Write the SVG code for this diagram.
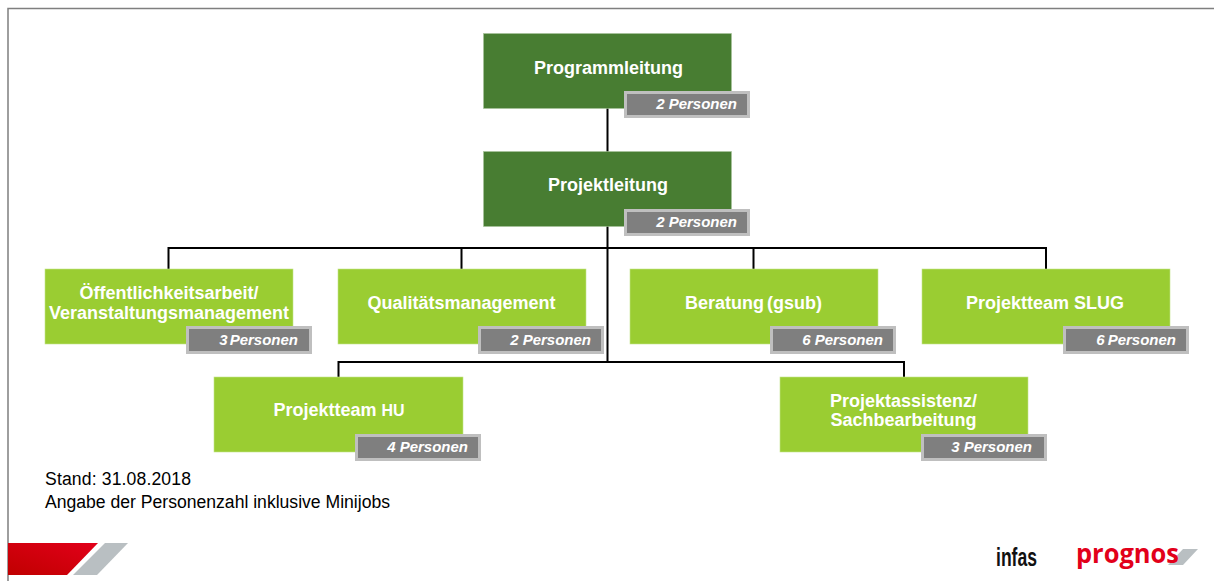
<svg xmlns="http://www.w3.org/2000/svg" width="1214" height="581" viewBox="0 0 1214 581">
<style>
text{font-family:"Liberation Sans",Arial,sans-serif}
.dark{fill:#487d32;stroke:#a9c49c;stroke-width:.6}
.light{fill:#9acd32;stroke:#c4e38a;stroke-width:.6}
.badge{fill:#7f7f7f;stroke:#bfbfbf;stroke-width:3}
.t{fill:#fff;font-size:18px;font-weight:700;text-anchor:middle}
.b{fill:#fff;font-size:15px;font-weight:700;font-style:italic;text-anchor:end}
.n{fill:#000;font-size:17.600px}
.c{fill:none;stroke:#000;stroke-width:2}
</style>
<defs><linearGradient id="red" x1="0" y1="1" x2="1" y2="0"><stop offset="0" stop-color="#c00000"/><stop offset="1" stop-color="#e2001a"/></linearGradient></defs>
<path d="M8 581V8.500H1214" fill="none" stroke="#7f7f7f" stroke-width="1.500"/>
<g id="connectors">
<path class="c" d="M607.500 108V248M168.500 269V248H1046V269M461.500 248V269M753.500 248V269M607.500 226V362M338.500 377V362H904V377"/>
</g>
<g id="programmleitung"><rect class="dark" x="483.500" y="33.500" width="248" height="75"/><text class="t" x="608.500" y="73.500">Programmleitung</text><rect class="badge" x="625.500" y="92.500" width="123" height="24"/><text class="b" x="737" y="109">2 Personen</text></g>
<g id="projektleitung"><rect class="dark" x="483.500" y="151.500" width="248" height="75"/><text class="t" x="608" y="190.500">Projektleitung</text><rect class="badge" x="625.500" y="210.500" width="123" height="24"/><text class="b" x="737" y="227">2 Personen</text></g>
<g id="oeffentlichkeit"><rect class="light" x="45" y="269" width="248" height="75"/><text class="t" x="169" y="298.500">Öffentlichkeitsarbeit/</text><text class="t" x="169" y="318.500">Veranstaltungsmanagement</text><rect class="badge" x="187.500" y="327.500" width="123" height="25"/><text class="b" x="298" y="345" word-spacing="-2">3 Personen</text></g>
<g id="qualitaet"><rect class="light" x="338" y="269" width="248" height="75"/><text class="t" x="461.500" y="308.500">Qualitätsmanagement</text><rect class="badge" x="479.500" y="327.500" width="123" height="25"/><text class="b" x="591" y="345">2 Personen</text></g>
<g id="beratung"><rect class="light" x="630" y="269" width="248" height="75"/><text class="t" x="753.500" y="308.500" word-spacing="-2">Beratung (gsub)</text><rect class="badge" x="771.500" y="327.500" width="123" height="25"/><text class="b" x="883" y="345">6 Personen</text></g>
<g id="slug"><rect class="light" x="922" y="269" width="248" height="75"/><text class="t" x="1045" y="308.500">Projektteam SLUG</text><rect class="badge" x="1064.500" y="327.500" width="123" height="25"/><text class="b" x="1176" y="345" word-spacing="-1">6 Personen</text></g>
<g id="hu"><rect class="light" x="214" y="377" width="249" height="75"/><text class="t" x="339" y="415.500">Projektteam <tspan font-size="16">HU</tspan></text><rect class="badge" x="356.500" y="435.500" width="123" height="24"/><text class="b" x="468" y="452">4 Personen</text></g>
<g id="assistenz"><rect class="light" x="780" y="377" width="248" height="75"/><text class="t" x="903.500" y="406.500">Projektassistenz/</text><text class="t" x="903.500" y="425.500">Sachbearbeitung</text><rect class="badge" x="922.500" y="435.500" width="123" height="24"/><text class="b" x="1032" y="452">3 Personen</text></g>
<g id="notes"><text class="n" x="45" y="484.500" textLength="146" lengthAdjust="spacing">Stand: 31.08.2018</text><text class="n" x="45" y="507.500" textLength="345" lengthAdjust="spacing">Angabe der Personenzahl inklusive Minijobs</text></g>
<g id="logos">
<path d="M8 543H98L67 575H8Z" fill="url(#red)"/>
<path d="M105 543H128L97 575H73Z" fill="#b9bfc2"/>
<text x="996" y="566" font-size="25" font-weight="700" fill="#111" textLength="41" lengthAdjust="spacingAndGlyphs">infas</text>
<path d="M1183 549H1198L1183 565H1168Z" fill="#b9bfc2"/>
<text x="1076" y="563" font-size="27" font-weight="700" fill="#e2001a" style="font-family:'Open Sans','Liberation Sans',sans-serif" textLength="103" lengthAdjust="spacingAndGlyphs">prognos</text>
</g>
</svg>
